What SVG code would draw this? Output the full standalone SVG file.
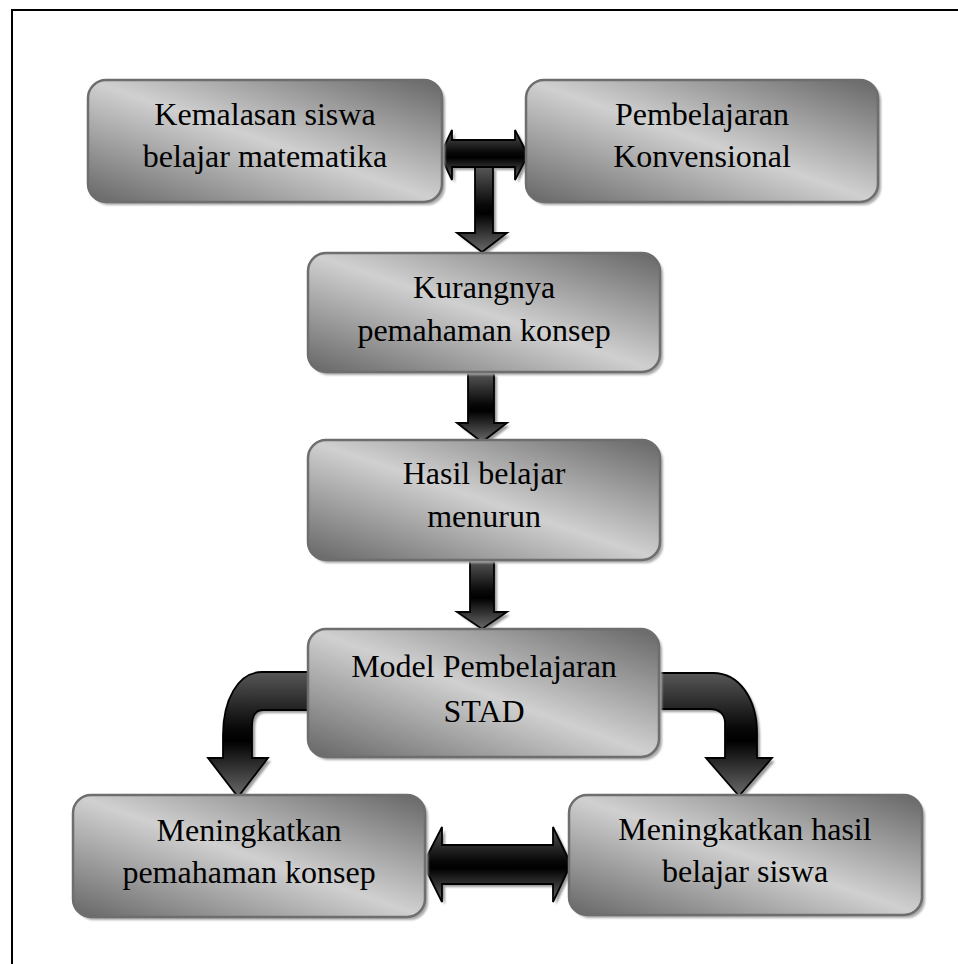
<svg xmlns="http://www.w3.org/2000/svg" width="958" height="964" viewBox="0 0 958 964">
<defs>
<linearGradient id="boxg" x1="0" y1="1" x2="1" y2="0">
<stop offset="0" stop-color="#666666"/>
<stop offset="0.5" stop-color="#d0d0d0"/>
<stop offset="1" stop-color="#666666"/>
</linearGradient>
<linearGradient id="arrg" x1="0" y1="0" x2="0" y2="1">
<stop offset="0" stop-color="#575757"/>
<stop offset="0.45" stop-color="#080808"/>
<stop offset="0.55" stop-color="#000000"/>
<stop offset="1" stop-color="#6a6a6a"/>
</linearGradient>
<filter id="blur" x="-10%" y="-10%" width="120%" height="120%">
<feGaussianBlur stdDeviation="1"/>
</filter>
</defs>
<style>
.box{fill:url(#boxg);stroke:#6e6e6e;stroke-width:2.5}
.sh{fill:#a8a8a8;filter:url(#blur)}
.arr{fill:url(#arrg);stroke:#000;stroke-width:1.8;stroke-linejoin:miter}
.ash{fill:#9a9a9a;filter:url(#blur)}
.t{font-family:'Liberation Serif','Times New Roman',serif;font-size:32px;fill:#000;text-anchor:middle}
</style>
<rect x="12" y="10" width="990" height="990" fill="none" stroke="#000" stroke-width="2"/>

<g id="connectors">
<g id="a1">
<path class="ash" transform="translate(3,3)" d="M440,155 L452,130 L452,140 L515,140 L515,130 L528,155 L515,180 L515,167 L452,167 L452,180 Z"/>
<path class="ash" transform="translate(3,3)" d="M475,167 L493,167 L493,233 L507,233 L482,252 L457,233 L475,233 Z"/>
<path class="arr" d="M475,167 L493,167 L493,233 L507,233 L482,252 L457,233 L475,233 Z"/>
<path class="arr" d="M440,155 L452,130 L452,140 L515,140 L515,130 L528,155 L515,180 L515,167 L452,167 L452,180 Z"/>
</g>
<g id="a3">
<path class="ash" transform="translate(3,3)" d="M468,373 L494,373 L494,423 L507,423 L482,442 L457,423 L468,423 Z"/>
<path class="arr" d="M468,373 L494,373 L494,423 L507,423 L482,442 L457,423 L468,423 Z"/>
</g>
<g id="a4">
<path class="ash" transform="translate(3,3)" d="M470,560 L494,560 L494,612 L507,612 L482,629 L457,612 L470,612 Z"/>
<path class="arr" d="M470,560 L494,560 L494,612 L507,612 L482,629 L457,612 L470,612 Z"/>
</g>
<g id="a5">
<path class="ash" transform="translate(3,3)" d="M308,672 L262,672 C238,672 223,700 223,735 L223,758 L208,758 L238,797 L268,758 L252,758 L252,726 C252,716 255,710 263,710 L308,710 Z"/>
<path class="arr" d="M308,672 L262,672 C238,672 223,700 223,735 L223,758 L208,758 L238,797 L268,758 L252,758 L252,726 C252,716 255,710 263,710 L308,710 Z"/>
</g>
<g id="a6">
<path class="ash" transform="translate(3,3)" d="M658,673 L713,673 C740,673 757,700 757,733 L757,758 L772,758 L739,796 L706,758 L725,758 L725,723 C725,714 719,709 710,709 L658,709 Z"/>
<path class="arr" d="M658,673 L713,673 C740,673 757,700 757,733 L757,758 L772,758 L739,796 L706,758 L725,758 L725,723 C725,714 719,709 710,709 L658,709 Z"/>
</g>
<g id="a7">
<path class="ash" transform="translate(3,3)" d="M423,864 L442,827 L442,845 L553,845 L553,827 L571,864 L553,902 L553,884 L442,884 L442,902 Z"/>
<path class="arr" d="M423,864 L442,827 L442,845 L553,845 L553,827 L571,864 L553,902 L553,884 L442,884 L442,902 Z"/>
</g>
</g>

<g id="n1">
<rect class="sh" x="91" y="83" width="354" height="122" rx="18"/>
<rect class="box" x="88" y="80" width="354" height="122" rx="18"/>
<text class="t" x="265" y="125">Kemalasan siswa</text>
<text class="t" x="265" y="167">belajar matematika</text>
</g>
<g id="n2">
<rect class="sh" x="529" y="83" width="352" height="122" rx="18"/>
<rect class="box" x="526" y="80" width="352" height="122" rx="18"/>
<text class="t" x="702" y="125">Pembelajaran</text>
<text class="t" x="702" y="167">Konvensional</text>
</g>
<g id="n3">
<rect class="sh" x="311" y="256" width="352" height="119" rx="18"/>
<rect class="box" x="308" y="253" width="352" height="119" rx="18"/>
<text class="t" x="484" y="298">Kurangnya</text>
<text class="t" x="484" y="341">pemahaman konsep</text>
</g>
<g id="n4">
<rect class="sh" x="311" y="443" width="352" height="120" rx="18"/>
<rect class="box" x="308" y="440" width="352" height="120" rx="18"/>
<text class="t" x="484" y="484">Hasil belajar</text>
<text class="t" x="484" y="527">menurun</text>
</g>
<g id="n5">
<rect class="sh" x="311" y="632" width="351" height="128" rx="18"/>
<rect class="box" x="308" y="629" width="351" height="128" rx="18"/>
<text class="t" x="484" y="677">Model Pembelajaran</text>
<text class="t" x="484" y="722">STAD</text>
</g>
<g id="n6">
<rect class="sh" x="76" y="798" width="352" height="122" rx="18"/>
<rect class="box" x="73" y="795" width="352" height="122" rx="18"/>
<text class="t" x="249" y="841">Meningkatkan</text>
<text class="t" x="249" y="883">pemahaman konsep</text>
</g>
<g id="n7">
<rect class="sh" x="572" y="798" width="353" height="120" rx="18"/>
<rect class="box" x="569" y="795" width="353" height="120" rx="18"/>
<text class="t" x="745" y="840">Meningkatkan hasil</text>
<text class="t" x="745" y="882">belajar siswa</text>
</g>
</svg>
